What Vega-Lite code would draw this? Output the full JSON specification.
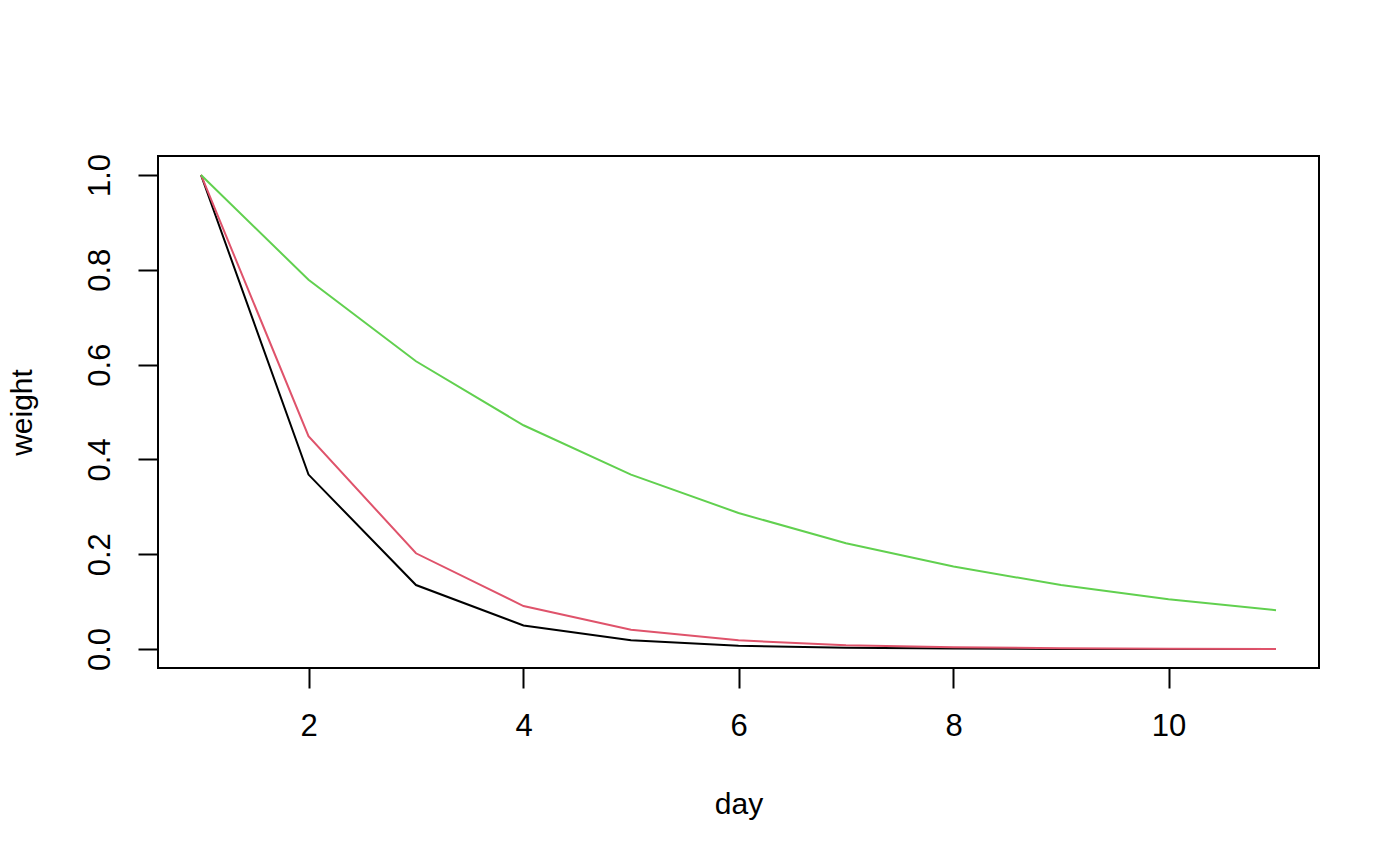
{
  "$schema": "https://vega.github.io/schema/vega-lite/v6.json",
  "width": 1161,
  "height": 512,
  "autosize": {"type": "none"},
  "padding": {"left": 158, "top": 156, "right": 81, "bottom": 197},
  "background": "white",
  "config": {
    "view": {"stroke": "black", "strokeWidth": 2},
    "font": "Liberation Sans",
    "axis": {
      "domain": false,
      "grid": false,
      "tickColor": "black",
      "tickWidth": 2,
      "tickSize": 20,
      "labelFont": "Liberation Sans",
      "labelFontSize": 31,
      "labelColor": "black",
      "titleFont": "Liberation Sans",
      "titleFontSize": 30,
      "titleFontWeight": "normal",
      "titleColor": "black"
    }
  },
  "data": {
    "values": [
      {"day": 1, "weight": 1.0, "series": "a"},
      {"day": 2, "weight": 0.368, "series": "a"},
      {"day": 3, "weight": 0.135, "series": "a"},
      {"day": 4, "weight": 0.0498, "series": "a"},
      {"day": 5, "weight": 0.0183, "series": "a"},
      {"day": 6, "weight": 0.0067, "series": "a"},
      {"day": 7, "weight": 0.0025, "series": "a"},
      {"day": 8, "weight": 0.0009, "series": "a"},
      {"day": 9, "weight": 0.0003, "series": "a"},
      {"day": 10, "weight": 0.0001, "series": "a"},
      {"day": 11, "weight": 0.00005, "series": "a"},
      {"day": 1, "weight": 1.0, "series": "b"},
      {"day": 2, "weight": 0.449, "series": "b"},
      {"day": 3, "weight": 0.202, "series": "b"},
      {"day": 4, "weight": 0.0907, "series": "b"},
      {"day": 5, "weight": 0.0408, "series": "b"},
      {"day": 6, "weight": 0.0183, "series": "b"},
      {"day": 7, "weight": 0.0082, "series": "b"},
      {"day": 8, "weight": 0.0037, "series": "b"},
      {"day": 9, "weight": 0.0017, "series": "b"},
      {"day": 10, "weight": 0.0007, "series": "b"},
      {"day": 11, "weight": 0.0003, "series": "b"},
      {"day": 1, "weight": 1.0, "series": "c"},
      {"day": 2, "weight": 0.779, "series": "c"},
      {"day": 3, "weight": 0.607, "series": "c"},
      {"day": 4, "weight": 0.472, "series": "c"},
      {"day": 5, "weight": 0.368, "series": "c"},
      {"day": 6, "weight": 0.287, "series": "c"},
      {"day": 7, "weight": 0.223, "series": "c"},
      {"day": 8, "weight": 0.174, "series": "c"},
      {"day": 9, "weight": 0.135, "series": "c"},
      {"day": 10, "weight": 0.105, "series": "c"},
      {"day": 11, "weight": 0.082, "series": "c"}
    ]
  },
  "mark": {"type": "line", "strokeWidth": 2, "clip": true},
  "encoding": {
    "x": {
      "field": "day",
      "type": "quantitative",
      "scale": {"domain": [0.6, 11.4], "nice": false, "zero": false},
      "axis": {"values": [2, 4, 6, 8, 10], "format": "d", "title": "day", "labelPadding": 23, "titlePadding": 48}
    },
    "y": {
      "field": "weight",
      "type": "quantitative",
      "scale": {"domain": [-0.04, 1.04], "nice": false, "zero": false},
      "axis": {"values": [0, 0.2, 0.4, 0.6, 0.8, 1.0], "format": ".1f", "title": "weight", "labelAngle": -90, "labelAlign": "center", "labelBaseline": "bottom", "labelPadding": 22, "titlePadding": 47}
    },
    "color": {
      "field": "series",
      "type": "nominal",
      "scale": {"domain": ["a", "b", "c"], "range": ["#000000", "#DF536B", "#61D04F"]},
      "legend": null
    }
  }
}
